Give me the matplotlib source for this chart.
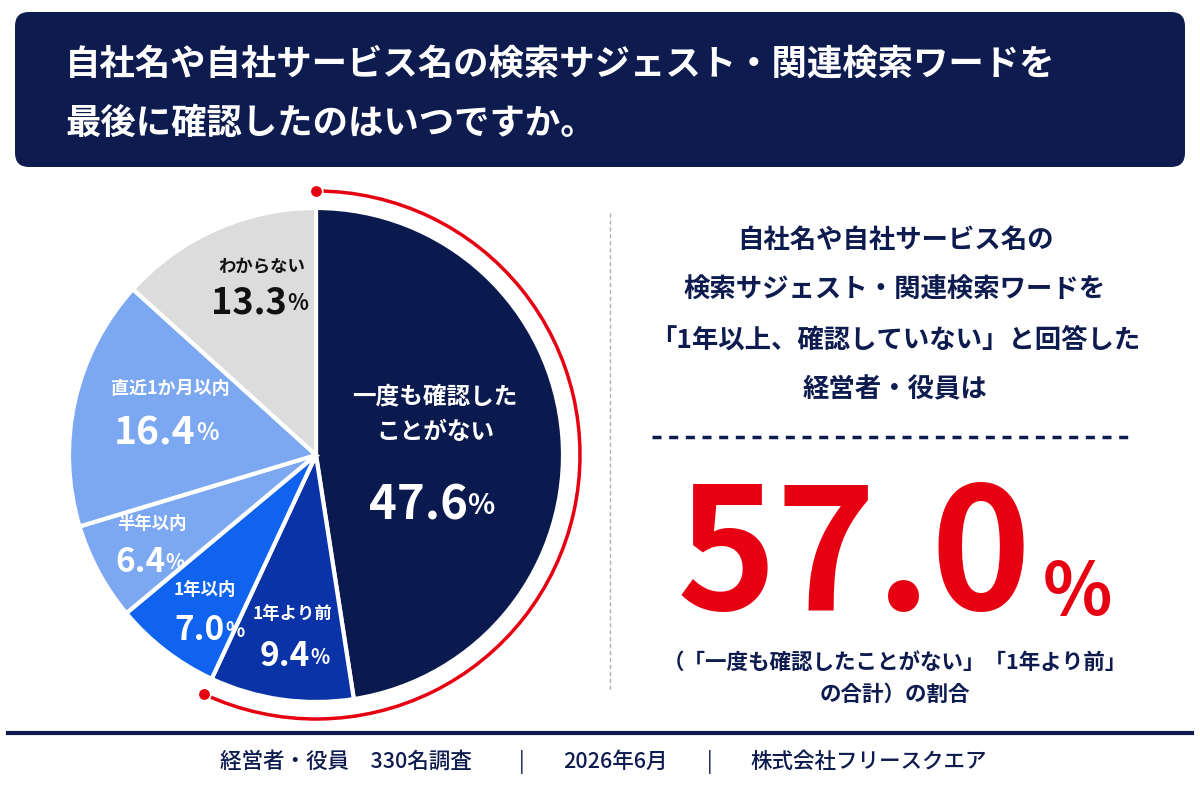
import numpy as np
import matplotlib
matplotlib.use("Agg")
import matplotlib.pyplot as plt
from matplotlib.patches import FancyBboxPatch, Arc

plt.rcParams['font.family'] = ['Noto Sans CJK JP', 'DejaVu Sans']

# data
categories = ['一度も確認した\nことがない', '1年より前', '1年以内', '半年以内', '直近1か月以内', 'わからない']
values = [47.6, 9.4, 7.0, 6.4, 16.4, 13.3]
colors = ['#0b1a4e', '#0a33a8', '#0f63ef', '#7ba8f1', '#7ba8f1', '#dcdcdc']
highlight_total = 57.0

title = '自社名や自社サービス名の検索サジェスト・関連検索ワードを\n最後に確認したのはいつですか。'
side_lines = ['自社名や自社サービス名の', '検索サジェスト・関連検索ワードを',
              '「1年以上、確認していない」と回答した', '経営者・役員は']
note_lines = ['（「一度も確認したことがない」「1年より前」', 'の合計）の割合']
footer_parts = ['経営者・役員　330名調査', '2026年6月', '株式会社フリースクエア']

navy = '#0d1b4f'
red = '#e60012'

fig = plt.figure(figsize=(12, 8), dpi=100)
ax = fig.add_axes([0, 0, 1, 1])


def Y(py):
    return 800 - py


# title box
ax.add_patch(FancyBboxPatch((15, Y(167)), 1170, 155,
                            boxstyle='round,pad=0,rounding_size=14',
                            fc=navy, ec='none'))
ax.text(65, Y(94), title, color='white', fontsize=25.5, fontweight='bold',
        ha='left', va='center', linespacing=1.85)

# pie
cx, cy, r = 316, Y(455), 247
ax.pie(values, colors=colors, startangle=90, counterclock=False,
       center=(cx, cy), radius=r, frame=True,
       wedgeprops=dict(edgecolor='white', linewidth=3))
ax.set_xlim(0, 1200)
ax.set_ylim(0, 800)
ax.set_aspect('equal')
ax.axis('off')

# red arc over the first two slices
span = (values[0] + values[1]) / sum(values) * 360
ra = 264
ax.add_patch(Arc((cx, cy), 2 * ra, 2 * ra, theta1=90 - span, theta2=90,
                 color=red, lw=2.5))
for a in (90, 90 - span):
    ax.plot(cx + ra * np.cos(np.radians(a)), cy + ra * np.sin(np.radians(a)),
            'o', color=red, ms=9, mec='white', mew=1.2, zorder=5)


def pct(x, y, num, size, color):
    t = ax.text(x, Y(y), num, fontsize=size, fontweight='bold', color=color,
                ha='center', va='center')
    ax.annotate('%', xy=(1.0, 0.18), xycoords=t, fontsize=size * 0.6,
                fontweight='bold', color=color, ha='left', va='bottom')


# slice labels
ax.text(435, Y(414), categories[0], color='white', fontsize=17, fontweight='bold',
        ha='center', va='center', linespacing=1.6)
pct(418, 505, f'{values[0]}', 34, 'white')
ax.text(293, Y(614), categories[1], color='white', fontsize=12.5, fontweight='bold',
        ha='center', va='center')
pct(285, 657, f'{values[1]}', 24, 'white')
ax.text(205, Y(590), categories[2], color='white', fontsize=12.5, fontweight='bold',
        ha='center', va='center')
pct(200, 630, f'{values[2]}', 24, 'white')
ax.text(152, Y(524), categories[3], color='white', fontsize=12.5, fontweight='bold',
        ha='center', va='center')
pct(140, 562, f'{values[3]}', 24, 'white')
ax.text(170, Y(388), categories[4], color='white', fontsize=13, fontweight='bold',
        ha='center', va='center')
pct(155, 433, f'{values[4]}', 28, 'white')
ax.text(262, Y(266), categories[5], color='#111111', fontsize=12.5, fontweight='bold',
        ha='center', va='center')
pct(249, 303, f'{values[5]}', 26, '#111111')

# vertical divider
ax.plot([610, 610], [Y(213), Y(690)], color='#b0b0b0', lw=1, ls=(0, (3, 2)))

# right side
rx = 895
for i, line in enumerate(side_lines):
    ax.text(rx, Y(240 + 50 * i), line, color=navy, fontsize=19, fontweight='bold',
            ha='center', va='center')
ax.plot([652, 1133], [Y(437), Y(437)], color=navy, lw=2.5, ls=(0, (2.6, 2.2)))

ax.text(1032, Y(561), f'{highlight_total:.1f}', color=red, fontsize=122,
        fontweight='bold', ha='right', va='center')
ax.text(1043, Y(594), '%', color=red, fontsize=52, fontweight='bold',
        ha='left', va='center')
for i, line in enumerate(note_lines):
    ax.text(rx, Y(662 + 32 * i), line, color=navy, fontsize=15.5, fontweight='bold',
            ha='center', va='center')

# footer
ax.plot([8, 1192], [Y(733), Y(733)], color=navy, lw=3)
for x, part in zip([346, 615, 869], footer_parts):
    ax.text(x, Y(762), part, color=navy, fontsize=15.5, fontweight='medium',
            ha='center', va='center')
for x in (522, 710):
    ax.text(x, Y(762), '|', color=navy, fontsize=15, ha='center', va='center')

fig.savefig('out.png', dpi=100, facecolor='white')
